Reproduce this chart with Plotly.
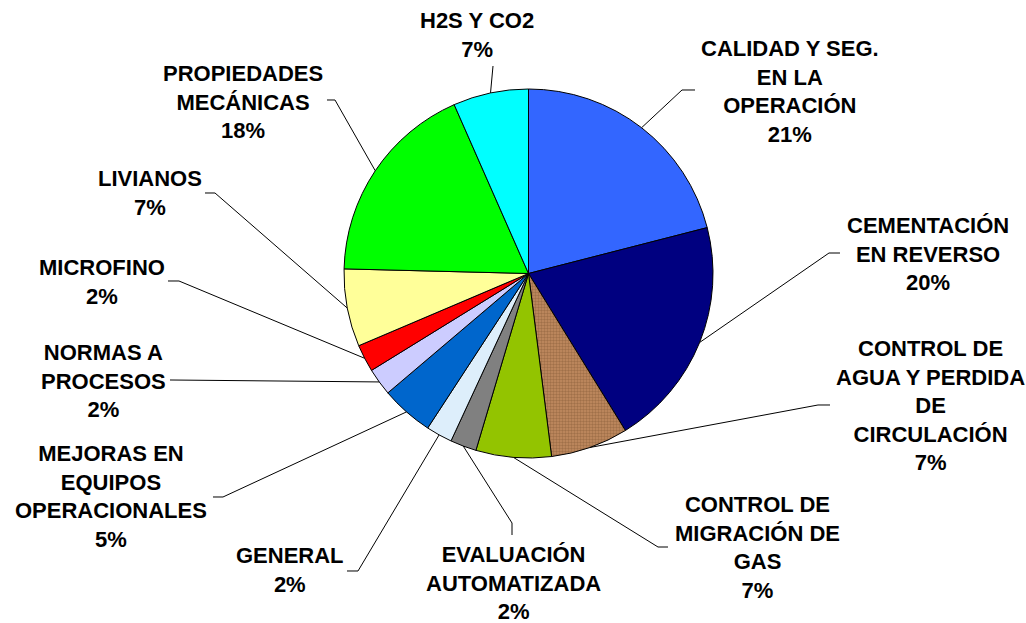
import math
import plotly.graph_objects as go

# ---- data ----
categories = [
    "CALIDAD Y SEG.<br>EN LA<br>OPERACIÓN",
    "CEMENTACIÓN<br>EN REVERSO",
    "CONTROL DE<br>AGUA Y PERDIDA<br>DE<br>CIRCULACIÓN",
    "CONTROL DE<br>MIGRACIÓN DE<br>GAS",
    "EVALUACIÓN<br>AUTOMATIZADA",
    "GENERAL",
    "MEJORAS EN<br>EQUIPOS<br>OPERACIONALES",
    "NORMAS A<br>PROCESOS",
    "MICROFINO",
    "LIVIANOS",
    "PROPIEDADES<br>MECÁNICAS",
    "H2S Y CO2",
]
values = [21.0, 20.2, 6.8, 6.6, 2.3, 2.3, 4.6, 2.4, 2.4, 6.8, 18.0, 6.6]
colors = ["#3366FF", "#000080", "#C28C60", "#93C400", "#808080", "#DDEEFB",
          "#0066CC", "#CCCCFF", "#FF0000", "#FFFF99", "#00FF00", "#00FFFF"]

# ---- layout (pixels) ----
W, H = 1026, 623
cx, cy, R = 528.5, 273.5, 184.5
label_centers = [(790, 91), (928, 253.5), (930, 405.5), (757, 547), (513, 583), (290, 570),
                 (111, 496.5), (103, 381), (102, 282), (150, 193), (243, 101.5), (477, 35)]
elbows = [[(682, 90), (695, 90)], [(829, 253), (840, 253)], [(818, 405), (830, 405)],
          [(658, 547), (668, 547)], [(512, 523), (512, 535)], [(358, 571), (347, 571)],
          [(223, 497), (213, 497)], [(170, 380), (170, 380)], [(179, 281), (168, 281)],
          [(215, 193), (205, 193)], [(335, 100), (327, 100)], [(493, 66), (493, 66)]]


def px(x):
    return x / W


def py(y):
    return 1 - y / H


total = sum(values)
patterns = ["" for _ in values]
patterns[2] = "."

fig = go.Figure(go.Pie(
    labels=categories,
    values=values,
    sort=False,
    direction="clockwise",
    rotation=0,
    textinfo="none",
    hoverinfo="label+percent",
    marker=dict(colors=colors, line=dict(color="#000000", width=1),
                pattern=dict(shape=patterns, fgcolor="#7E5432", size=3, solidity=0.5,
                             fillmode="overlay")),
    domain=dict(x=[px(cx - R), px(cx + R)], y=[py(cy + R), py(cy - R)]),
    showlegend=False,
))

annotations = []
shapes = []
cum = 0.0
for cat, v, (lx, ly), el in zip(categories, values, label_centers, elbows):
    theta = math.radians((cum + v / 2) / total * 360)
    cum += v
    ex = cx + R * math.sin(theta)
    ey = cy - R * math.cos(theta)
    pct = round(v / total * 100)
    annotations.append(dict(
        x=px(lx), y=py(ly), xref="paper", yref="paper", xanchor="center", yanchor="middle",
        text=f"{cat}<br>{pct}%", showarrow=False, align="center",
        font=dict(family="Liberation Sans, Arial, sans-serif", size=22, color="#000000",
                  weight="bold"),
    ))
    pts = [(ex, ey)] + el
    path = "M " + " L ".join(f"{px(x):.5f},{py(y):.5f}" for x, y in pts)
    shapes.append(dict(type="path", xref="paper", yref="paper", path=path,
                       line=dict(color="#000000", width=1)))

fig.update_layout(
    width=W, height=H,
    margin=dict(l=0, r=0, t=0, b=0),
    paper_bgcolor="#FFFFFF",
    plot_bgcolor="#FFFFFF",
    annotations=annotations,
    shapes=shapes,
)

fig.write_html("out.html",
               config={"displayModeBar": False},
               post_script="document.body.style.margin='0px';document.body.style.overflow='hidden';")
